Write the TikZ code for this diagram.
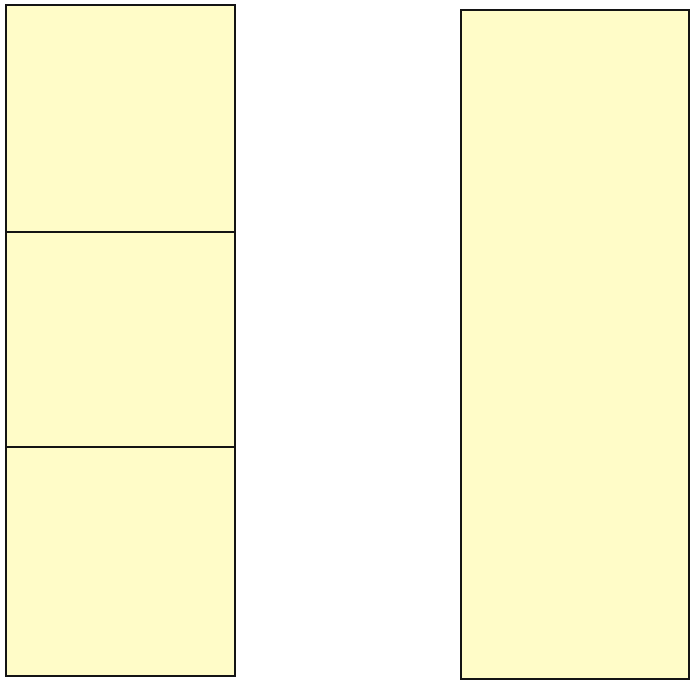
\documentclass[tikz,border=0pt]{standalone}
\definecolor{boxfill}{RGB}{255,252,200}
\definecolor{boxline}{RGB}{20,20,20}
\begin{document}
\begin{tikzpicture}[x=1pt,y=-1pt,
  cell/.style={draw=boxline,fill=boxfill,line width=2.6pt}]
\useasboundingbox (0,0) rectangle (691,681);
\draw[cell] (6,5) rectangle (235,232);
\draw[cell] (6,232) rectangle (235,447);
\draw[cell] (6,447) rectangle (235,676);
\draw[cell] (461,10) rectangle (689,679);
\end{tikzpicture}
\end{document}
